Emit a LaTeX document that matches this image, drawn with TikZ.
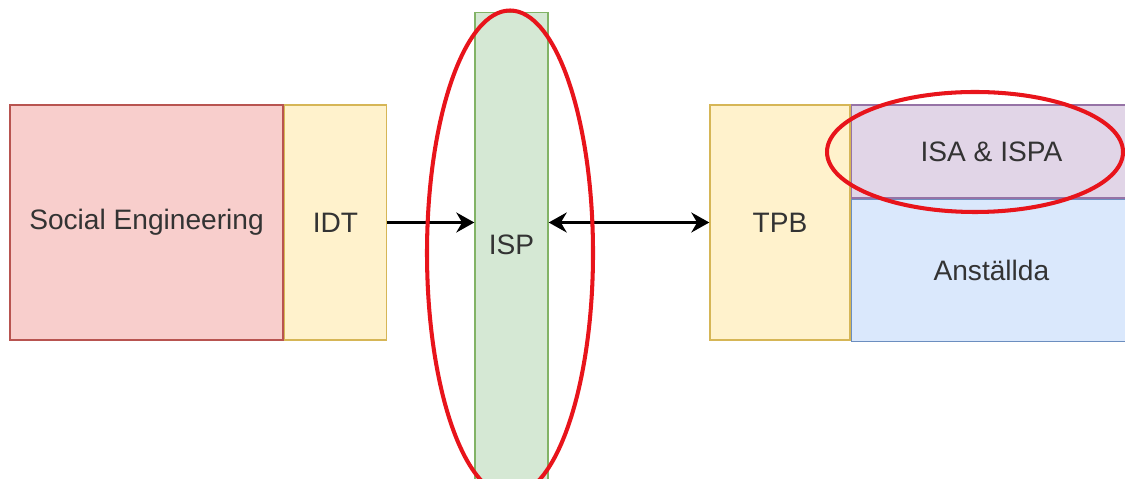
\documentclass[tikz,border=0pt]{standalone}
\usepackage{fontspec}
\setmainfont{Liberation Sans}
\usetikzlibrary{positioning,arrows.meta}
\definecolor{txt}{HTML}{333333}
\definecolor{redfill}{HTML}{F8CECC}\definecolor{redline}{HTML}{B85450}
\definecolor{yelfill}{HTML}{FFF2CC}\definecolor{yelline}{HTML}{D6B656}
\definecolor{grnfill}{HTML}{D5E8D4}\definecolor{grnline}{HTML}{82B366}
\definecolor{purfill}{HTML}{E1D5E7}\definecolor{purline}{HTML}{9673A6}
\definecolor{blufill}{HTML}{DAE8FC}\definecolor{bluline}{HTML}{6C8EBF}
\definecolor{hilite}{HTML}{E8141B}

\begin{document}
\begin{tikzpicture}[
    box/.style={draw,line width=0.8pt,minimum height=4.7cm,inner sep=0pt,
                text=txt,font=\fontsize{16}{19}\selectfont},
    tip/.style={Stealth[length=0.36cm,width=0.4cm]},
    conn/.style={line width=1.5pt,-{Stealth[length=0.36cm,width=0.4cm]}},
    mark ring/.style={draw=hilite,line width=2.3pt}]
  \useasboundingbox (0,0) rectangle (22.5,9.56);
  % left part
  \node[box,fill=redfill,draw=redline,minimum width=5.46cm] (soceng) at (2.93,5.11) {Social Engineering};
  \node[box,fill=yelfill,draw=yelline,minimum width=2.04cm,right=0pt of soceng] (idt) {IDT};
  % policy bar (runs off the bottom)
  \node[box,fill=grnfill,draw=grnline,minimum width=1.46cm,minimum height=9.72cm,anchor=north] (isp) at (10.23,9.32) {};
  \node[text=txt,font=\fontsize{16}{19}\selectfont] (isplabel) at (10.23,4.66) {ISP};
  % right part
  \node[box,fill=yelfill,draw=yelline,minimum width=2.8cm] (tpb) at (15.6,5.11) {TPB};
  \node[box,fill=purfill,draw=purline,minimum width=5.6cm,minimum height=1.86cm,anchor=north west] (isa) at (tpb.north east) {ISA \& ISPA};
  \node[box,fill=blufill,draw=bluline,minimum width=5.6cm,minimum height=2.84cm,anchor=north west] (anst) at (isa.south west) {Anställda};
  % arrows
  \draw[conn] (idt.east) -- (idt.east -| isp.west);
  \draw[conn,{Stealth[length=0.36cm,width=0.4cm]}-{Stealth[length=0.36cm,width=0.4cm]}] (tpb.west -| isp.east) -- (tpb.west);
  % highlights
  \draw[mark ring] (10.2,4.5) ellipse [x radius=1.66cm,y radius=4.85cm];
  \draw[mark ring] (19.5,6.52) ellipse [x radius=2.96cm,y radius=1.2cm];
\end{tikzpicture}
\end{document}
